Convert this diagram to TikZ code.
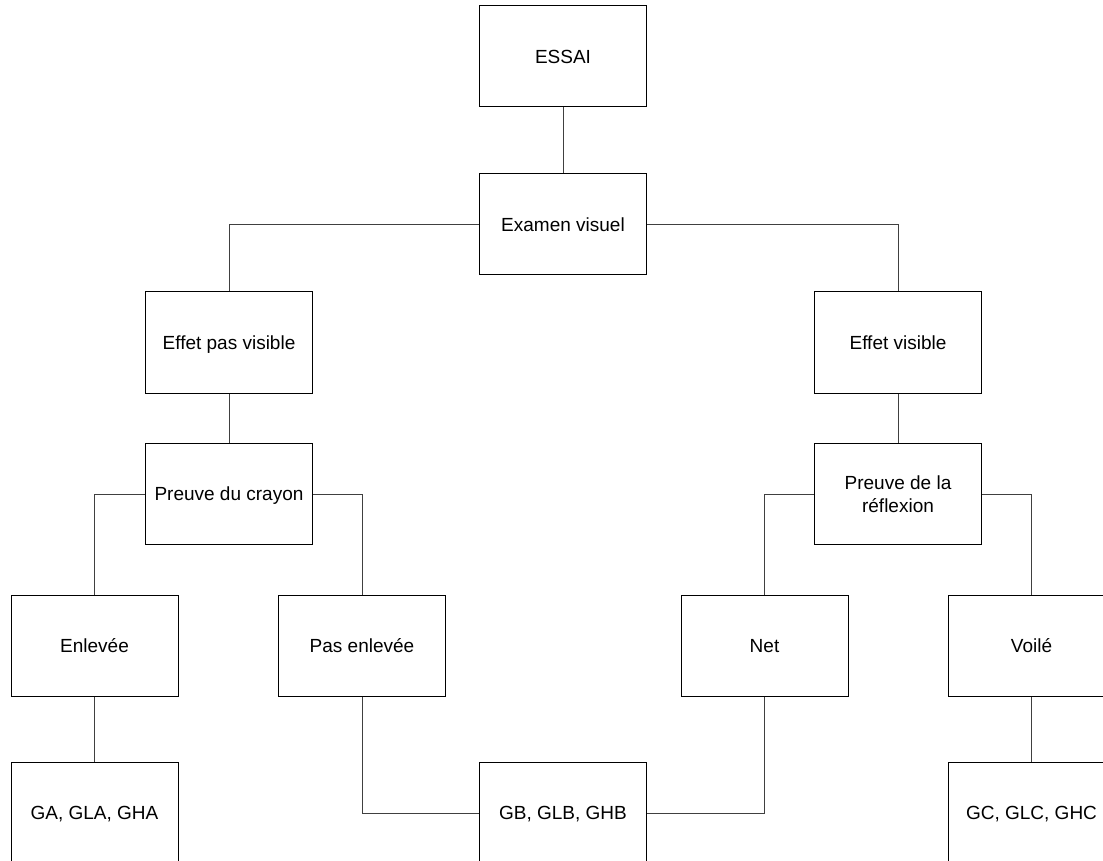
\documentclass[tikz,border=0pt]{standalone}
\usepackage{fontspec}
\setmainfont{Liberation Sans}
\usepackage{tikz}
\usetikzlibrary{positioning}

\begin{document}
\begin{tikzpicture}[x=0.5pt, y=-0.5pt,
  box/.style={draw, line width=0.5pt, rectangle, minimum width=83.5pt, minimum height=50.5pt,
    inner sep=0pt, align=center, font=\fontsize{9.5}{11.7}\selectfont},
  onebox/.style={box, text height=8.6pt, text depth=2pt},
  link/.style={line width=0.5pt, black!75}]
\path[use as bounding box, clip] (0,0) rectangle (1103,861);
% top of the tree
\node[onebox] (essai) at (563,56.5) {ESSAI};
\node[onebox] (examen) at (563,224.5) {Examen visuel};
% first split
\node[onebox] (pasvis) at (229,342.5) {Effet pas visible};
\node[onebox] (vis) at (898,342.5) {Effet visible};
% the two proofs
\node[onebox] (crayon) at (229,494) {Preuve du crayon};
\node[box] (reflex) at (898,494) {Preuve de la\\réflexion};
% outcomes
\node[onebox] (enlevee) at (94.5,645.5) {Enlevée};
\node[onebox] (pasenl) at (362,645.5) {Pas enlevée};
\node[onebox] (net) at (764.5,645.5) {Net};
\node[onebox] (voile) at (1031.5,645.5) {Voilé};
% groups at the bottom
\node[onebox] (ga) at (94.5,813) {GA, GLA, GHA};
\node[onebox] (gb) at (563,813) {GB, GLB, GHB};
\node[onebox] (gc) at (1031.5,813) {GC, GLC, GHC};
% connectors
\draw[link] (essai) -- (examen);
\draw[link] (examen.west) -| (pasvis.north);
\draw[link] (examen.east) -| (vis.north);
\draw[link] (pasvis) -- (crayon);
\draw[link] (vis) -- (reflex);
\draw[link] (crayon.west) -| (enlevee.north);
\draw[link] (crayon.east) -| (pasenl.north);
\draw[link] (reflex.west) -| (net.north);
\draw[link] (reflex.east) -| (voile.north);
\draw[link] (enlevee) -- (ga);
\draw[link] (voile) -- (gc);
\draw[link] (pasenl.south) |- (gb.west);
\draw[link] (net.south) |- (gb.east);
\end{tikzpicture}
\end{document}
